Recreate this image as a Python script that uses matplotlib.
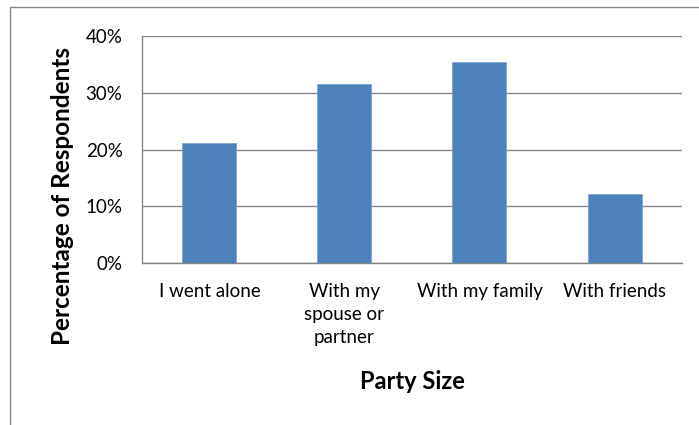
import numpy as np
import matplotlib.pyplot as plt
from matplotlib.patches import Rectangle
from matplotlib.ticker import PercentFormatter

# Data
categories = ['I went alone', 'With my\nspouse or\npartner', 'With my family', 'With friends']
shares = [21.1, 31.5, 35.5, 12.2]
yticks = [0, 10, 20, 30, 40]

plt.rcParams['font.family'] = ['Lato', 'DejaVu Sans']

fig = plt.figure(figsize=(6.99, 4.25), dpi=100)
ax = fig.add_axes([0.2031, 0.3805, 0.7726, 0.5348])

# outer chart-area frame (cropped on right and bottom)
fig.patches.append(Rectangle((10 / 699, -0.1), 1.2, 1 - 7 / 425 + 0.1,
                             transform=fig.transFigure, fill=False,
                             edgecolor='#868686', linewidth=1.0))

x = np.arange(len(categories))
ax.bar(x, shares, width=0.4, color='#4F81BD', edgecolor='#7FA3D1', linewidth=0.6, zorder=3)

ax.set_xlim(-0.5, len(categories) - 0.5)
ax.set_ylim(0, 40)
ax.set_yticks(yticks)
ax.yaxis.set_major_formatter(PercentFormatter(decimals=0))
ax.set_xticks(x)
ax.set_xticklabels(categories, fontsize=13.5, linespacing=1.45, va='top')
ax.tick_params(axis='y', labelsize=13.5, length=0, pad=14)
ax.tick_params(axis='x', length=0, pad=14)

ax.grid(axis='y', color='#868686', linewidth=1.0, zorder=0)
for s in ['top', 'right']:
    ax.spines[s].set_visible(False)
for s in ['left', 'bottom']:
    ax.spines[s].set_color('#868686')
    ax.spines[s].set_linewidth(1.0)

ax.set_ylabel('Percentage of Respondents', fontsize=17.5, fontweight='bold')
ax.yaxis.set_label_coords(-0.126, 0.295)
ax.set_xlabel('Party Size', fontsize=17, fontweight='bold')
ax.xaxis.set_label_coords(0.5, -0.47)

fig.savefig('out.png', dpi=100)
